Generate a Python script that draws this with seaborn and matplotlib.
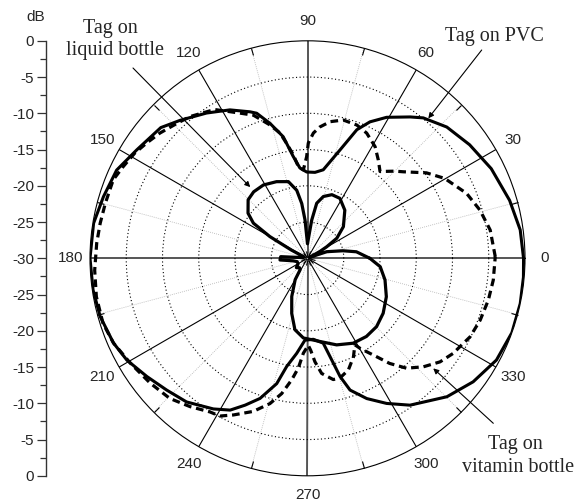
import numpy as np
import pandas as pd
import matplotlib
matplotlib.use("Agg")
import matplotlib.pyplot as plt
import seaborn as sns

# radiation patterns: angle (deg) and level (dB)
pvc_deg = [0, 7.6, 16, 26, 35, 43.3, 50.5, 54, 60.7, 65.4, 69, 73.3, 79.9, 85,
           90.5, 94.8, 98, 101.3, 105.5, 109.3, 111.4, 117.6, 124.8, 132.7,
           138.3, 147.6, 155.2, 163.2, 170.7, 180, 188.4, 195.7, 203.6, 209.4,
           216.4, 223.1, 229.9, 238, 243, 247, 251.3, 256.2, 259.1, 263.5,
           268.2, 274.1, 280.5, 282.9, 285.4, 287.9, 292.9, 298.6, 304.9,
           315.2, 323.3, 331.7, 340, 348, 355]
pvc_db = [-0.2, -0.4, -1.0, -1.8, -2.7, -3.6, -4.9, -5.9, -7.7, -9.3, -11.0,
          -14.4, -17.6, -18.1, -18.1, -17.5, -15.8, -12.9, -10.7, -8.8, -8.3,
          -6.9, -5.6, -4.1, -2.9, -2.1, -1.0, -0.6, -0.1, 0.0, -0.1, -0.3,
          -0.8, -1.4, -2.5, -3.4, -4.1, -5.5, -6.5, -8.0, -9.6, -12.2, -14.8,
          -16.8, -18.7, -18.8, -18.1, -16.1, -13.1, -10.9, -9.0, -7.2, -5.3,
          -2.9, -1.5, -0.4, 0.0, 0.0, -0.1]

vitamin_deg = [0.5, 8.8, 15.6, 22.2, 30.2, 35.7, 42.1, 45, 50.1, 54.2, 58.8,
               64.7, 69.7, 75.5, 80.6, 84.6, 87.3, 89.6, 90.5, 92.7, 95.7,
               97.8, 100.3, 102.4, 105.7, 110.7, 115, 122, 129.7, 134.1, 139.7,
               144.4, 148.7, 153.6, 158, 164.8, 170.4, 175.9, 183.2, 190.3,
               197.7, 203.6, 210.6, 218.4, 225.5, 231.6, 237.6, 240.9, 244.7,
               250.5, 255.5, 259.2, 262.6, 265.2, 267.5, 270.5, 272, 274.1,
               277, 282, 285.2, 290.1, 295, 298.7, 300.3, 305.1, 308, 312,
               316.9, 322, 326.9, 329.9, 334.2, 340.3, 347, 353.3]
vitamin_db = [-4.1, -4.5, -5.3, -6.3, -8.1, -9.8, -12.2, -13.0, -14.4, -13.3,
              -12.0, -10.9, -10.4, -10.3, -10.9, -11.8, -12.7, -14.1, -16.0,
              -17.8, -17.3, -15.6, -13.9, -12.3, -10.9, -8.9, -7.9, -5.8,
              -4.6, -4.1, -3.3, -2.7, -2.1, -1.6, -1.1, -1.1, -1.0, -0.85,
              -0.6, -0.4, -0.4, -0.8, -1.6, -2.3, -2.9, -3.9, -4.9, -5.1,
              -6.1, -7.6, -9.3, -11.0, -13.1, -14.8, -16.9, -18.0, -17.3,
              -15.7, -14.0, -12.9, -12.9, -13.6, -15.0, -16.4, -15.6, -13.4,
              -11.6, -9.6, -8.1, -6.8, -6.0, -5.7, -5.1, -4.7, -4.4, -4.2]

liquid_deg = [0, 7.6, 12, 19, 24, 29, 31, 34.4, 41.4, 52.2, 61.6, 69, 75.6,
              80.5, 83.7, 88, 90, 92, 93.7, 96, 99, 104, 112, 121, 129, 135.4,
              142.8, 147, 150, 153, 158, 172, 176.5, 183.5, 190, 198, 210,
              220, 230, 237.3, 240, 247.6, 254, 260, 267, 278.5, 288.6, 298.3,
              307, 315.3, 324, 334, 344.4, 353.4]
liquid_db = [-21.4, -23.2, -25.0, -27.2, -29.7, -28.0, -26.9, -25.1, -23.4,
             -21.6, -20.6, -20.6, -21.2, -22.3, -24.7, -27.5, -28.0, -27.0,
             -24.7, -22.4, -20.5, -19.1, -18.6, -18.2, -18.2, -18.5, -19.7,
             -21.1, -24.0, -27.5, -29.5, -29.3, -26.3, -26.2, -28.0, -28.5,
             -28.5, -28.0, -28.3, -28.1, -26.6, -24.3, -22.1, -20.0, -19.0,
             -18.4, -17.4, -16.7, -16.5, -16.6, -17.1, -17.9, -18.9, -19.9]

angle_ticks = [0, 30, 60, 90, 120, 150, 180, 210, 240, 270, 300, 330]
minor_angles = [15, 45, 75, 105, 135, 165, 195, 225, 255, 285, 315, 345]
ring_levels = [-25, -20, -15, -10, -5]
db_positions = [30, 25, 20, 15, 10, 5, 0, -5, -10, -15, -20, -25, -30]
db_labels = [0, -5, -10, -15, -20, -25, -30, -25, -20, -15, -10, -5, 0]

sns.set_style("white")
plt.rcParams["font.family"] = ["Liberation Sans", "DejaVu Sans"]

W, H = 577, 501
cx, cy, R = 307.5, 258.3, 217.5
fig = plt.figure(figsize=(W / 100, H / 100), dpi=100)
ax = fig.add_axes([(cx - R) / W, (H - cy - R) / H, 2 * R / W, 2 * R / H],
                  projection="polar")


def closed(deg, db):
    th = np.deg2rad(np.append(deg, deg[0] + 360))
    return pd.DataFrame({"theta": th, "db": np.append(db, db[0])})


sns.lineplot(data=closed(vitamin_deg, vitamin_db), x="theta", y="db",
             sort=False, estimator=None, color="black", lw=2.3,
             linestyle=(0, (2.4, 1.5)), ax=ax, zorder=5)
sns.lineplot(data=closed(pvc_deg, pvc_db), x="theta", y="db", sort=False,
             estimator=None, color="black", lw=2.2, ax=ax, zorder=6)
sns.lineplot(data=closed(liquid_deg, liquid_db), x="theta", y="db",
             sort=False, estimator=None, color="black", lw=2.3, ax=ax,
             zorder=6)

ax.set_xlabel("")
ax.set_ylabel("")
ax.set_ylim(-30, 0)
ax.set_rgrids(ring_levels, labels=[])
ax.yaxis.grid(True, color="black", linestyle=(0, (1, 2.2)), lw=0.8)
ax.set_xticks(np.deg2rad(angle_ticks))
ax.set_xticklabels([])
ax.set_xticks(np.deg2rad(minor_angles), minor=True)
ax.xaxis.grid(True, which="major", color="black", lw=0.8)
ax.xaxis.grid(True, which="minor", color="#b0b0b0", linestyle=(0, (1, 1.5)),
              lw=0.6)
for ang, gl in zip(angle_ticks, ax.xaxis.get_gridlines()):
    if ang % 90 == 0:
        gl.set_color("#555555")
        gl.set_linewidth(1.4)
ax.tick_params(axis="x", which="major", length=0)
ax.tick_params(axis="x", which="minor", direction="in", length=5, width=0.8,
               color="black", bottom=True, top=True)
ax.spines["polar"].set_linewidth(0.8)
ax.spines["polar"].set_color("black")

for ang in angle_ticks:
    ax.text(np.deg2rad(ang), 2.7, str(ang), ha="center", va="center",
            fontsize=11, clip_on=False)

# linear dB scale at the left
ax2 = fig.add_axes([46 / W, (H - cy - R) / H, 0.0001, 2 * R / H])
ax2.set_facecolor("none")
for side in ["top", "right", "bottom"]:
    ax2.spines[side].set_visible(False)
ax2.spines["left"].set_color("#333333")
ax2.spines["left"].set_linewidth(1.0)
ax2.set_ylim(-30, 30)
ax2.set_xticks([])
ax2.set_yticks(db_positions)
ax2.set_yticklabels([str(v) for v in db_labels])
ax2.set_yticks(np.arange(-27.5, 30, 5), minor=True)
ax2.tick_params(axis="y", which="major", direction="out", length=6.5,
                width=0.9, labelsize=11, pad=2, color="#333333", left=True)
ax2.tick_params(axis="y", which="minor", direction="out", length=4.3,
                width=0.9, color="#333333", left=True)
fig.text(35.5 / W, 1 - 17 / H, "dB", ha="center", va="center", fontsize=11)

serif = ["Liberation Serif", "DejaVu Serif"]
notes = [("Tag on", 110, 33.5), ("liquid bottle", 115.5, 55.5),
         ("Tag on PVC", 494, 41), ("Tag on", 515, 449),
         ("vitamin bottle", 518, 472)]
for txt, x, y in notes:
    fig.text(x / W, 1 - y / H, txt, ha="center", va="baseline", fontsize=14.5,
             family=serif)

arrows = [((128.8, -17.4), (133, 68)), ((49.2, -4.5), (481.7, 50)),
          ((318.8, -6.95), (493.3, 423.3))]
for (ang, lev), (x, y) in arrows:
    ax.annotate("", xy=(np.deg2rad(ang), lev), xycoords="data",
                xytext=(x, H - y), textcoords="figure pixels",
                annotation_clip=False,
                arrowprops=dict(arrowstyle="-|>", lw=0.8, color="black",
                                mutation_scale=8, shrinkA=0, shrinkB=0))

fig.savefig("out.png", dpi=100)
